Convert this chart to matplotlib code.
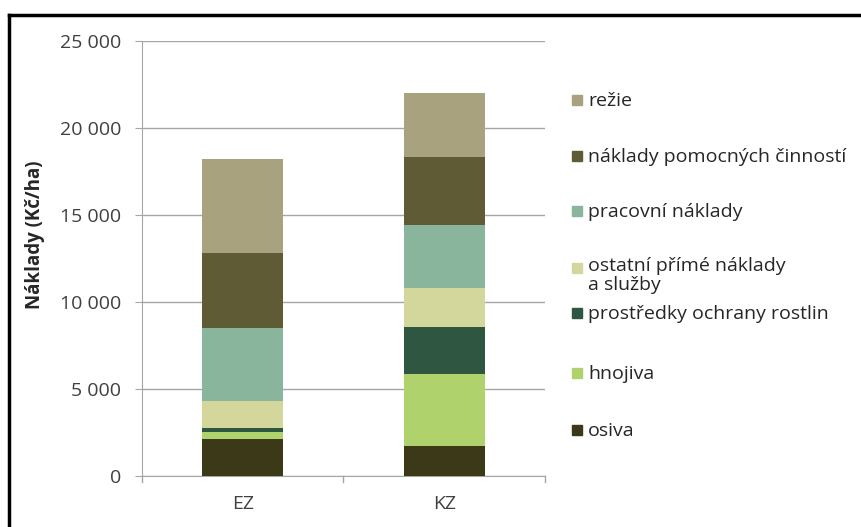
import matplotlib.pyplot as plt
from matplotlib.patches import Rectangle
from matplotlib.lines import Line2D
from matplotlib.ticker import FuncFormatter

plt.rcParams['font.family'] = ['Open Sans', 'DejaVu Sans']

# Náklady na hektar podle složek, EZ vs KZ
groups = ['EZ', 'KZ']
labels = ['osiva', 'hnojiva', 'prostředky ochrany rostlin',
          'ostatní přímé náklady\na služby', 'pracovní náklady',
          'náklady pomocných činností', 'režie']
osiva = [2130, 1740]
hnojiva = [420, 4120]
ochrana = [190, 2720]
ostatni = [1590, 2210]
pracovni = [4190, 3640]
pomocne = [4310, 3925]
rezie = [5370, 3680]
series = [osiva, hnojiva, ochrana, ostatni, pracovni, pomocne, rezie]
colors = ['#3b3917', '#afd26c', '#2f5640', '#d4d79b', '#88b59b', '#5f5c35', '#a8a27f']

W, H = 862, 527
fig = plt.figure(figsize=(W / 100, H / 100), dpi=100)
ax = fig.add_axes([142 / W, 1 - 476 / H, (545 - 142) / W, (476 - 41) / H])

bottom = [0, 0]
for vals, c in zip(series, colors):
    ax.bar(range(len(groups)), vals, bottom=bottom, width=0.4, color=c, zorder=3)
    bottom = [b + v for b, v in zip(bottom, vals)]

ax.set_xlim(-0.5, 1.5)
ax.set_ylim(0, 25000)
ax.set_yticks(range(0, 25001, 5000))
ax.yaxis.set_major_formatter(FuncFormatter(lambda v, p: f'{int(v):,}'.replace(',', ' ')))
ax.set_xticks([0, 1])
ax.set_xticklabels(groups)
ax.grid(axis='y', color='#a6a6a6', linewidth=1, zorder=0)
for s in ['top', 'right']:
    ax.spines[s].set_visible(False)
for s in ['left', 'bottom']:
    ax.spines[s].set_color('#a6a6a6')
ax.tick_params(axis='y', length=5, color='#a6a6a6', labelsize=14, labelcolor='#404040', pad=10)
ax.tick_params(axis='x', length=0, labelsize=14, labelcolor='#404040', pad=14)
# tick marks between categories
for xb in [-0.5, 0.5, 1.5]:
    ax.plot([xb, xb], [0, -350], color='#a6a6a6', lw=1, clip_on=False)

fig.text(35 / W, 1 - 235 / H, 'Náklady (Kč/ha)', rotation=90, ha='center', va='center',
         fontsize=13.5, fontweight='bold', color='#262626')

# legenda
leg_y = [431, 374, 314, 269, 212, 157, 101]
for lab, c, y in zip(labels, colors, leg_y):
    fig.patches.append(Rectangle((572 / W, 1 - (y + 4) / H), 10 / W, 10 / H,
                                 transform=fig.transFigure, color=c))
    if '\n' in lab:
        fig.text(588 / W, 1 - (y - 12) / H, lab, ha='left', va='top',
                 fontsize=14, color='#262626', linespacing=1.1)
    else:
        fig.text(588 / W, 1 - y / H, lab, ha='left', va='center',
                 fontsize=14, color='#262626')

# rámeček
fig.add_artist(Line2D([9 / W, 9 / W], [0, 1 - 15 / H], color='black', lw=2.5))
fig.add_artist(Line2D([9 / W, 1], [1 - 15 / H, 1 - 15 / H], color='black', lw=2.5))

fig.savefig('out.png', dpi=100, facecolor='white')
